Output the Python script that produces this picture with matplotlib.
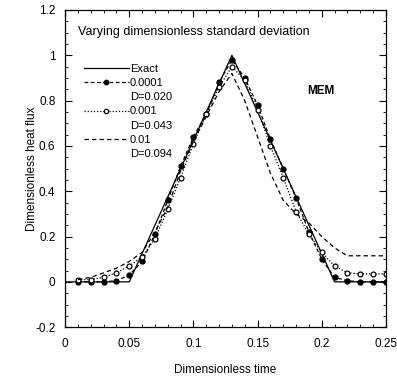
import numpy as np
import matplotlib
matplotlib.use("Agg")
import matplotlib.pyplot as plt
from matplotlib.lines import Line2D
from matplotlib.ticker import MultipleLocator, FormatStrFormatter

plt.rcParams['font.family'] = ['Liberation Sans', 'DejaVu Sans']
plt.rcParams['axes.unicode_minus'] = False

# DATOS

t_exacto = [0.0, 0.05, 0.13, 0.21, 0.25]
q_exacto = [0.0, 0.0, 1.0, 0.0, 0.0]

t = [0.01, 0.02, 0.03, 0.04, 0.05, 0.06, 0.07, 0.08, 0.09, 0.10, 0.11, 0.12, 0.13,
     0.14, 0.15, 0.16, 0.17, 0.18, 0.19, 0.20, 0.21, 0.22, 0.23, 0.24, 0.25]

q_0001 = [0.0, 0.0, 0.0, 0.005, 0.03, 0.09, 0.21, 0.36, 0.51, 0.64, 0.74, 0.88, 0.98,
          0.90, 0.78, 0.63, 0.50, 0.37, 0.22, 0.10, 0.02, 0.005, 0.0, 0.0, 0.0]
q_001 = [0.01, 0.01, 0.02, 0.04, 0.07, 0.11, 0.19, 0.32, 0.46, 0.61, 0.74, 0.86, 0.95,
         0.89, 0.76, 0.60, 0.46, 0.31, 0.21, 0.13, 0.07, 0.04, 0.035, 0.035, 0.035]
q_01 = [0.01, 0.02, 0.04, 0.06, 0.09, 0.13, 0.22, 0.33, 0.49, 0.62, 0.73, 0.84, 0.92,
        0.80, 0.64, 0.48, 0.36, 0.30, 0.26, 0.20, 0.15, 0.115, 0.115, 0.115, 0.115]

etiquetas = ["Exact", "0.0001", "D=0.020", "0.001", "D=0.043", "0.01", "D=0.094"]

# GRAFICO

fig = plt.figure(figsize=(3.97, 3.84), dpi=100)
ax = fig.add_axes([0.164, 0.148, 0.808, 0.826])

l_ex, = ax.plot(t_exacto, q_exacto, color='black', lw=0.9, ls='-')
l_a, = ax.plot(t, q_0001, color='black', lw=0.9, ls=(0, (3, 2)),
               marker='o', ms=3.5, mfc='black', mec='black')
l_b, = ax.plot(t, q_001, color='black', lw=0.9, ls=(0, (1, 1.5)),
               marker='o', ms=3.5, mfc='white', mec='black', mew=0.9)
l_c, = ax.plot(t, q_01, color='black', lw=0.9, ls=(0, (3.5, 2.5)))

vacio = Line2D([], [], ls='none')
ax.legend([l_ex, l_a, vacio, l_b, vacio, l_c, vacio], etiquetas,
          loc='upper left', bbox_to_anchor=(0.035, 0.855), frameon=False,
          fontsize=8, handlelength=4.0, handletextpad=0.1, numpoints=1,
          labelspacing=0.38, borderpad=0.2, markerscale=0.9)

ax.text(0.04, 0.93, "Varying dimensionless standard deviation", transform=ax.transAxes,
        fontsize=9, ha='left', va='center')
ax.text(0.755, 0.745, "MEM", transform=ax.transAxes, fontsize=8.5,
        fontweight='bold', ha='left', va='center')

ax.set_xlim(0, 0.25)
ax.set_ylim(-0.2, 1.2)
ax.xaxis.set_major_locator(MultipleLocator(0.05))
ax.xaxis.set_minor_locator(MultipleLocator(0.01))
ax.yaxis.set_major_locator(MultipleLocator(0.2))
ax.yaxis.set_minor_locator(MultipleLocator(0.05))
ax.xaxis.set_major_formatter(FormatStrFormatter('%g'))
ax.yaxis.set_major_formatter(FormatStrFormatter('%g'))
ax.tick_params(which='both', direction='in', top=True, right=True, labelsize=8.5)
ax.tick_params(which='major', length=5, width=0.8)
ax.tick_params(which='minor', length=2.5, width=0.6)
ax.tick_params(axis='x', pad=8)
ax.tick_params(axis='y', pad=7)
for s in ax.spines.values():
    s.set_linewidth(0.9)

ax.set_xlabel("Dimensionless time", fontsize=8.5, labelpad=10)
ax.set_ylabel("Dimensionless heat flux", fontsize=8.5)
ax.yaxis.set_label_coords(-0.085, 0.5)

fig.savefig("out.png", dpi=100)
